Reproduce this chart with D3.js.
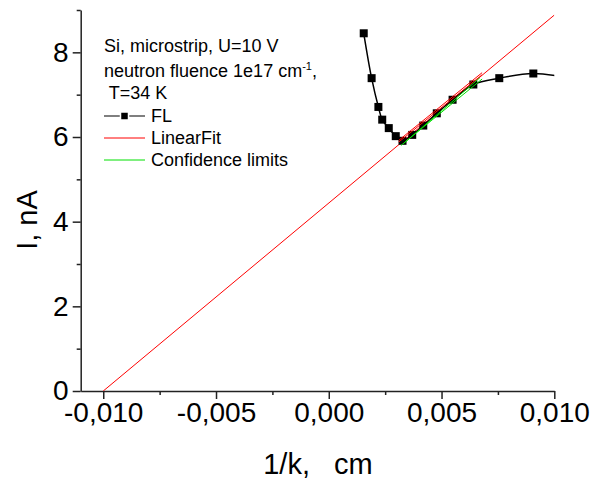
<!DOCTYPE html>
<html>
<head>
<meta charset="utf-8">
<script src="https://cdn.jsdelivr.net/npm/d3@7"></script>
<style>
  body { margin: 0; background: #fff; }
  svg { font-family: Arial, 'Liberation Sans', sans-serif; }
  .axis path, .axis line { stroke: #222; stroke-width: 1.5; }
  .axis text { font-size: 28px; fill: #000; }
</style>
</head>
<body>
<div id="chart"></div>
<script>
// FL data (1/k in cm, I in nA)
var flX = [0.00155, 0.0019, 0.0022, 0.00237, 0.00266, 0.00297, 0.00327, 0.0037, 0.00419, 0.00479, 0.00549, 0.00641, 0.00756, 0.00907, 0.0108];
var flY = [8.45, 7.39, 6.71, 6.41, 6.21, 6.02, 5.91, 6.05, 6.27, 6.56, 6.88, 7.24, 7.39, 7.5, 7.38];

// linear fit I = a + b * x
var fitA = 4.44, fitB = 444;
var fitRange = [-0.010, 0.010];

// short lines around fit window
var redLimitsX = [[0.0031, 0.0068], [0.0031, 0.0068]];
var redLimitsY = [[5.92, 7.52], [5.88, 7.47]];
var greenLimitsX = [[0.0032, 0.0068], [0.0033, 0.0067]];
var greenLimitsY = [[5.80, 7.37], [5.84, 7.40]];

var xTicks = [-0.010, -0.005, 0.000, 0.005, 0.010];
var xMinor = [-0.0075, -0.0025, 0.0025, 0.0075];
var yTicks = [0, 2, 4, 6, 8];
var yMinor = [1, 3, 5, 7, 9];

var legendLines = ['Si, microstrip, U=10 V', 'neutron fluence 1e17 cm', ' T=34 K'];
var legendItems = ['FL', 'LinearFit', 'Confidence limits'];

var W = 593, H = 479;
var margin = { top: 10, right: 38.7, bottom: 88, left: 80.7 },
  width = W - margin.left - margin.right,
  height = H - margin.top - margin.bottom;

var svg = d3.select('#chart').append('svg')
  .attr('width', W).attr('height', H);

var g = svg.append('g')
  .attr('transform', 'translate(' + margin.left + ',' + margin.top + ')');

var x = d3.scaleLinear().domain([-0.011, 0.010]).range([0, width]);
var y = d3.scaleLinear().domain([0, 9]).range([height, 0]);

var loc = d3.formatLocale({ decimal: ',', thousands: '.', grouping: [3], currency: ['', ''], minus: '-' });
var fmt = loc.format('.3f');

g.append('clipPath').attr('id', 'clip')
  .append('rect').attr('width', width).attr('height', height);

// minor ticks
var xMinorAxis = d3.axisBottom(x).tickValues(xMinor).tickSize(4).tickFormat('');
g.append('g').attr('class', 'axis')
  .attr('transform', 'translate(0,' + height + ')')
  .call(xMinorAxis).select('.domain').remove();
var yMinorAxis = d3.axisLeft(y).tickValues(yMinor).tickSize(4).tickFormat('');
g.append('g').attr('class', 'axis')
  .call(yMinorAxis).select('.domain').remove();

var xAxis = d3.axisBottom(x).tickValues(xTicks).tickSize(8).tickSizeOuter(0)
  .tickPadding(3).tickFormat(fmt);
g.append('g').attr('class', 'axis')
  .attr('transform', 'translate(0,' + height + ')')
  .call(xAxis);

var yAxis = d3.axisLeft(y).tickValues(yTicks).tickSize(8).tickSizeOuter(0)
  .tickPadding(4).tickFormat(d3.format('d'));
g.append('g').attr('class', 'axis')
  .call(yAxis);

// axis titles
svg.append('text')
  .attr('x', 318).attr('y', 474)
  .attr('text-anchor', 'middle')
  .style('font-size', '29px')
  .style('white-space', 'pre')
  .text('1/k,   cm');

svg.append('text')
  .attr('transform', 'translate(37,220) rotate(-90)')
  .attr('text-anchor', 'middle')
  .style('font-size', '29px')
  .text('I, nA');

var plot = g.append('g').attr('clip-path', 'url(#clip)');

// linear fit
var fitPts = fitRange.map(function(v) { return [v, fitA + fitB * v]; });
plot.append('path')
  .datum(fitPts)
  .attr('fill', 'none').attr('stroke', '#ff0000').attr('stroke-width', 1)
  .attr('d', d3.line().x(function(d) { return x(d[0]); }).y(function(d) { return y(d[1]); }));

// FL curve
var flData = flX.map(function(v, i) { return [v, flY[i]]; });
var flLine = d3.line()
  .curve(d3.curveCatmullRom.alpha(0.5))
  .x(function(d) { return x(d[0]); })
  .y(function(d) { return y(d[1]); });
plot.append('path')
  .datum(flData)
  .attr('fill', 'none').attr('stroke', '#000').attr('stroke-width', 1.5)
  .attr('d', flLine);

plot.selectAll('rect.pt')
  .data(flData)
  .enter().append('rect')
  .attr('class', 'pt')
  .attr('x', function(d) { return x(d[0]) - 4; })
  .attr('y', function(d) { return y(d[1]) - 4; })
  .attr('width', 8).attr('height', 8)
  .attr('fill', '#000');

// limits
function drawSeg(xs, ys, color) {
  plot.append('line')
    .attr('x1', x(xs[0])).attr('y1', y(ys[0]))
    .attr('x2', x(xs[1])).attr('y2', y(ys[1]))
    .attr('stroke', color).attr('stroke-width', 1);
}
greenLimitsX.forEach(function(xs, i) { drawSeg(xs, greenLimitsY[i], '#00e000'); });
redLimitsX.forEach(function(xs, i) { drawSeg(xs, redLimitsY[i], '#ff0000'); });

// legend
var leg = svg.append('g').style('font-size', '18px');
leg.append('text').attr('x', 104).attr('y', 52).text(legendLines[0]);
var t2 = leg.append('text').attr('x', 104).attr('y', 77).text(legendLines[1]);
t2.append('tspan').attr('dy', -7).style('font-size', '11px').text('-1');
t2.append('tspan').attr('dy', 7).text(',');
leg.append('text').attr('x', 104).attr('y', 99).style('white-space', 'pre').text(legendLines[2]);

var itemY = [116, 138, 160];
leg.append('line').attr('x1', 104).attr('x2', 145).attr('y1', itemY[0]).attr('y2', itemY[0])
  .attr('stroke', '#000').attr('stroke-width', 1.2);
leg.append('rect').attr('x', 120.5).attr('y', itemY[0] - 4).attr('width', 8).attr('height', 8).attr('fill', '#000')
  .attr('stroke', '#fff').attr('stroke-width', 1.5);
leg.append('line').attr('x1', 104).attr('x2', 145).attr('y1', itemY[1]).attr('y2', itemY[1])
  .attr('stroke', '#ff0000').attr('stroke-width', 1);
leg.append('line').attr('x1', 104).attr('x2', 145).attr('y1', itemY[2]).attr('y2', itemY[2])
  .attr('stroke', '#00e000').attr('stroke-width', 1);
legendItems.forEach(function(s, i) {
  leg.append('text').attr('x', 151).attr('y', itemY[i] + 6).text(s);
});
</script>
</body>
</html>
